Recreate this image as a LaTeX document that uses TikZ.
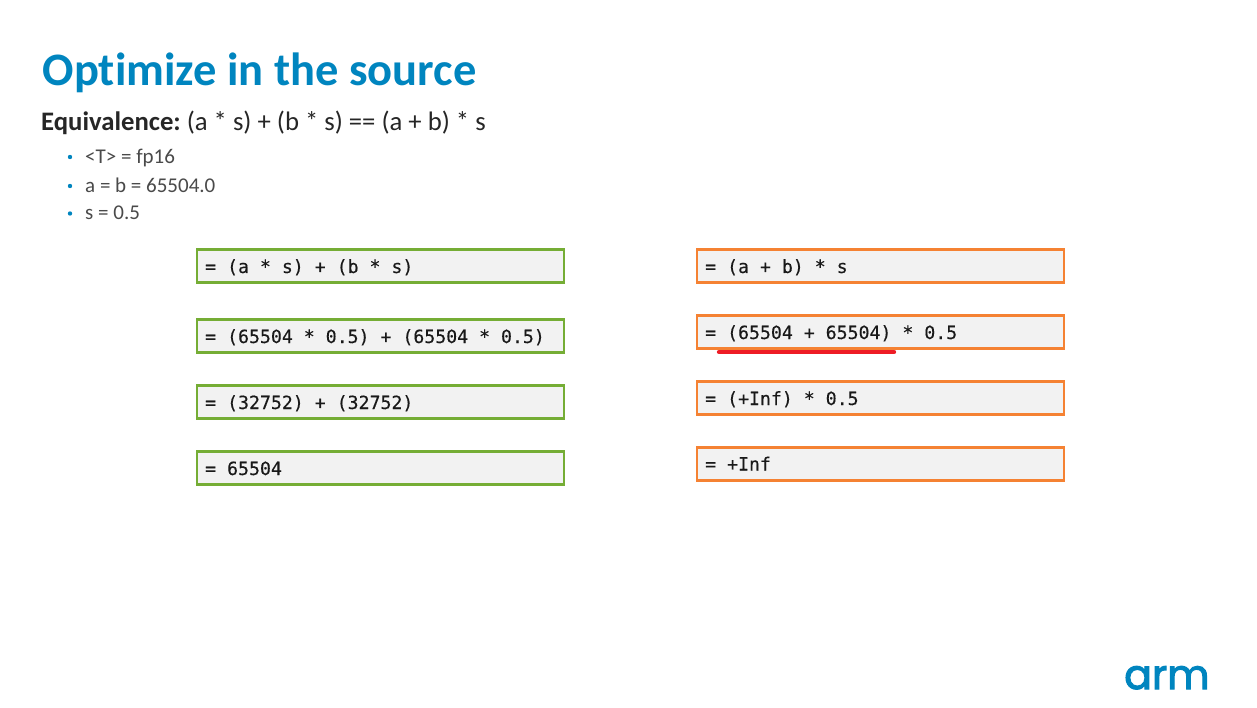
\documentclass[tikz,border=0pt]{standalone}
\usepackage{fontspec}
\setmainfont{Carlito}[Ligatures=NoCommon]
\newfontfamily\codefont{DejaVu Sans Mono}[FakeBold=0.25]
\newfontfamily\logofont{Poppins}[FakeBold=2.6]
\definecolor{armblue}{HTML}{0085BF}
\definecolor{inktext}{HTML}{262626}
\definecolor{greytext}{HTML}{4A4A4A}
\definecolor{boxfill}{HTML}{F2F2F2}
\definecolor{greenedge}{HTML}{75AD35}
\definecolor{orangeedge}{HTML}{F58233}
\definecolor{redline}{HTML}{EE1C25}
\tikzset{
  x=1pt,y=-1pt,
  codebox/.style={draw,fill=boxfill,line width=2.4pt,minimum width=367pt,minimum height=33pt,inner sep=0pt,anchor=north west},
  greenbox/.style={codebox,draw=greenedge},
  orangebox/.style={codebox,draw=orangeedge},
  codetext/.style={inner sep=0pt,anchor=base west,font=\codefont\fontsize{18.2}{20}\selectfont,text=black!90},
  bullettext/.style={inner sep=0pt,anchor=base west,font=\fontsize{21}{24}\selectfont,text=greytext},
  bulletdot/.style={circle,fill=armblue,inner sep=0pt,minimum size=4.4pt},
}
\begin{document}
\begin{tikzpicture}
\useasboundingbox (0,0) rectangle (1257,708);
\fill[white] (0,0) rectangle (1257,708);
\node[inner sep=0pt,anchor=base west,text=armblue,font=\bfseries\fontsize{46.5}{50}\selectfont] (title) at (42.5,85.5) {Optimize in the source};
\node[inner sep=0pt,anchor=base west,text=inktext,font=\fontsize{26.7}{30}\selectfont] (equiv) at (41,131) {\textbf{Equivalence:}\hspace{6pt}(a * s) + (b * s) == (a + b) * s};
\node[bulletdot] (d1) at (70,157) {};
\node[bulletdot] (d2) at (70,186) {};
\node[bulletdot] (d3) at (70,213.5) {};
\node[bullettext] (b1) at (85,163.5) {<T> = fp16};
\node[bullettext] (b2) at (85,192.5) {a = b = 65504.0};
\node[bullettext] (b3) at (85,219.5) {s = 0.5};

\node[greenbox] (g1) at (195.5,248.4) {};
\node[greenbox] (g2) at (195.5,318.4) {};
\node[greenbox] (g3) at (195.5,384.4) {};
\node[greenbox] (g4) at (195.5,450.4) {};
\node[orangebox] (o1) at (695.5,248.4) {};
\node[orangebox] (o2) at (695.5,314.4) {};
\node[orangebox] (o3) at (695.5,380.4) {};
\node[orangebox] (o4) at (695.5,446.4) {};

\node[codetext] (tg1) at (205,273) {= (a * s) + (b * s)};
\node[codetext] (tg2) at (205,343) {= (65504 * 0.5) + (65504 * 0.5)};
\node[codetext] (tg3) at (205,409) {= (32752) + (32752)};
\node[codetext] (tg4) at (205,475) {= 65504};
\node[codetext] (to1) at (705,273) {= (a + b) * s};
\node[codetext] (to2) at (705,339) {= (65504 + 65504) * 0.5};
\node[codetext] (to3) at (705,405) {= (+Inf) * 0.5};
\node[codetext] (to4) at (705,470.5) {= +Inf};

\coordinate (r1) at (719,352);
\coordinate (r2) at (894,352);
\draw[redline,line width=4.4pt,line cap=round] (r1) -- (r2);

\node[inner sep=0pt,anchor=base west,text=armblue,font=\logofont\fontsize{41}{50}\selectfont] (logo) at (1124,689) {arm};
\end{tikzpicture}
\end{document}
